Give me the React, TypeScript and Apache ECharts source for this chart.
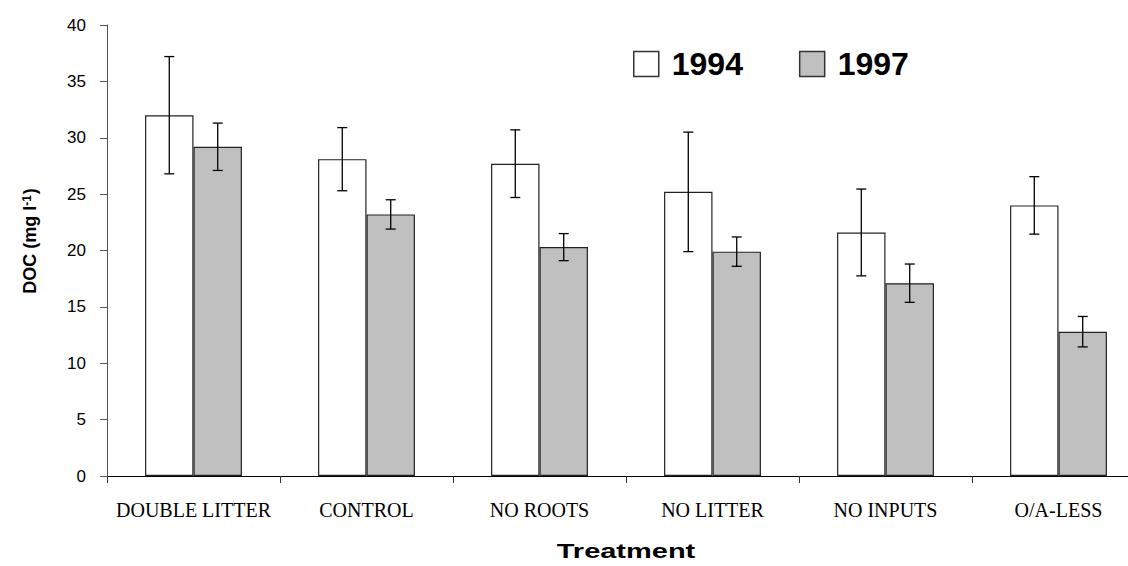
import React, { useEffect, useRef } from "react";
import * as echarts from "echarts";

const categories = ["DOUBLE LITTER", "CONTROL", "NO ROOTS", "NO LITTER", "NO INPUTS", "O/A-LESS"];
const seriesNames = ["1994", "1997"];
const values1994 = [32.0, 28.1, 27.7, 25.2, 21.6, 24.0];
const errors1994 = [5.2, 2.8, 3.0, 5.3, 3.85, 2.55];
const values1997 = [29.2, 23.2, 20.3, 19.9, 17.1, 12.8];
const errors1997 = [2.1, 1.3, 1.2, 1.3, 1.7, 1.35];
const yTicks = { min: 0, max: 40, interval: 5 };

const BAR_PCT = 0.28;

function errorSeries(name: string, values: number[], errors: number[], side: number) {
  return {
    name: name + " error",
    type: "custom",
    coordinateSystem: "cartesian2d",
    z: 10,
    clip: false,
    silent: true,
    encode: { x: 0, y: [1, 2] },
    data: values.map((v, i) => [i, v - errors[i], v + errors[i]]),
    renderItem: (params: any, api: any) => {
      const idx = api.value(0);
      const lo = api.coord([idx, api.value(1)]);
      const hi = api.coord([idx, api.value(2)]);
      const band = api.size([1, 0])[0];
      const x = lo[0] + side * band * BAR_PCT / 2;
      const cap = 5;
      const style = { stroke: "#000", lineWidth: 1.3 };
      return {
        type: "group",
        children: [
          { type: "line", shape: { x1: x, y1: lo[1], x2: x, y2: hi[1] }, style },
          { type: "line", shape: { x1: x - cap, y1: lo[1], x2: x + cap, y2: lo[1] }, style },
          { type: "line", shape: { x1: x - cap, y1: hi[1], x2: x + cap, y2: hi[1] }, style },
        ],
      };
    },
  };
}

export default function App() {
  const ref = useRef<HTMLDivElement>(null);
  useEffect(() => {
    if (!ref.current) return;
    const chart = echarts.init(ref.current, null, { renderer: "svg" });
    const option: any = {
      animation: false,
      backgroundColor: "#fff",
      grid: {
        left: 107,
        right: -17,
        top: 25,
        bottom: 90,
        containLabel: false,
        outerBoundsMode: "none",
      },
      legend: {
        data: seriesNames,
        left: 633,
        top: 48,
        padding: 0,
        itemWidth: 25,
        itemHeight: 25,
        itemGap: 56,
        icon: "rect",
        selectedMode: false,
        itemStyle: { borderColor: "#333", borderWidth: 1.5 },
        textStyle: {
          fontFamily: "Liberation Sans, Arial, sans-serif",
          fontSize: 32,
          fontWeight: "bold",
          color: "#000",
          padding: [0, 0, 0, 8],
        },
      },
      xAxis: {
        type: "category",
        data: categories,
        boundaryGap: true,
        axisLine: { show: true, lineStyle: { color: "#000", width: 1 } },
        axisTick: { show: true, length: 7, alignWithLabel: false, lineStyle: { color: "#333" } },
        axisLabel: {
          margin: 24,
          fontFamily: "Liberation Serif, Times New Roman, serif",
          fontSize: 20,
          color: "#000",
          interval: 0,
        },
        splitLine: { show: false },
      },
      yAxis: {
        type: "value",
        min: yTicks.min,
        max: yTicks.max,
        interval: yTicks.interval,
        axisLine: { show: true, lineStyle: { color: "#555", width: 1 } },
        axisTick: { show: true, length: 7, lineStyle: { color: "#555" } },
        axisLabel: {
          margin: 21,
          fontFamily: "Liberation Sans, Arial, sans-serif",
          fontSize: 17,
          color: "#000",
        },
        splitLine: { show: false },
      },
      series: [
        {
          name: seriesNames[0],
          type: "bar",
          data: values1994,
          barWidth: BAR_PCT * 100 + "%",
          barGap: "0%",
          itemStyle: { color: "#ffffff", borderColor: "#222", borderWidth: 1.2 },
        },
        {
          name: seriesNames[1],
          type: "bar",
          data: values1997,
          barWidth: BAR_PCT * 100 + "%",
          barGap: "0%",
          itemStyle: { color: "#c0c0c0", borderColor: "#222", borderWidth: 1.2 },
        },
        errorSeries(seriesNames[0], values1994, errors1994, -1),
        errorSeries(seriesNames[1], values1997, errors1997, 1),
      ],
      graphic: [
        {
          type: "text",
          x: 30,
          y: 241,
          rotation: Math.PI / 2,
          style: {
            text: "DOC (mg l{sup|-1})",
            fontFamily: "Liberation Sans, Arial, sans-serif",
            fontSize: 18,
            fontWeight: "bold",
            fill: "#000",
            align: "center",
            verticalAlign: "middle",
            rich: {
              sup: {
                fontFamily: "Liberation Sans, Arial, sans-serif",
                fontSize: 12,
                fontWeight: "bold",
                fill: "#000",
                verticalAlign: "top",
                padding: [0, 1, 6, 0],
              },
            },
          },
        },
        {
          type: "text",
          x: 626,
          y: 551,
          scaleX: 1.38,
          style: {
            text: "Treatment",
            fontFamily: "Liberation Sans, Arial, sans-serif",
            fontSize: 21,
            fontWeight: "bold",
            fill: "#000",
            align: "center",
            verticalAlign: "middle",
          },
        },
      ],
    };
    chart.setOption(option);
    return () => chart.dispose();
  }, []);
  return (
    <div
      ref={ref}
      style={{ position: "absolute", left: 0, top: 0, width: 1128, height: 566 }}
    />
  );
}
